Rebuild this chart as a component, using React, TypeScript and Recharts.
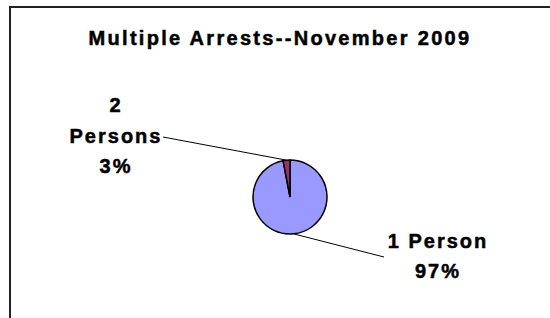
import React from 'react';
import { PieChart, Pie, Cell } from 'recharts';

const categories = ['1 Person', '2 Persons'];
const shares = [97, 3];
const labelLines: string[][] = [['1 Person', '97%'], ['2', 'Persons', '3%']];
const colors = ['#9999FF', '#993366'];

const data = categories.map((name, i) => ({ name, value: shares[i], lines: labelLines[i] }));

// where each leader line ends, relative to the pie centre
const labelLayout: Record<string, { dx: number; dy: number; tx: number; ty: number; lh: number }> = {
  '1 Person': { dx: 94, dy: 60, tx: 148, ty: 51, lh: 30 },
  '2 Persons': { dx: -127, dy: -60, tx: -174, ty: -85, lh: 30.5 },
};

const FONT = '"Liberation Sans", Arial, sans-serif';
const RAD = Math.PI / 180;

const renderLabel = (props: any) => {
  const { cx, cy, midAngle, outerRadius, payload, name } = props;
  const key = payload?.name ?? name;
  const lay = labelLayout[key];
  if (!lay) return null;
  const sx = cx + outerRadius * Math.cos(-midAngle * RAD);
  const sy = cy + outerRadius * Math.sin(-midAngle * RAD);
  const lines: string[] = payload?.lines ?? [];
  return (
    <g>
      <line x1={sx} y1={sy} x2={cx + lay.dx} y2={cy + lay.dy} stroke="#000" strokeWidth={1} />
      <text
        x={cx + lay.tx}
        y={cy + lay.ty}
        textAnchor="middle"
        fill="#000"
        stroke="#000"
        strokeWidth={0.5}
        fontFamily={FONT}
        fontWeight="bold"
        fontSize={20}
        letterSpacing={2}
      >
        {lines.map((l, i) => (
          <tspan key={i} x={cx + lay.tx} dy={i === 0 ? 0 : lay.lh}>{l}</tspan>
        ))}
      </text>
    </g>
  );
};

export default function App() {
  return (
    <div style={{ position: 'absolute', left: 0, top: 0, width: 550, height: 318, overflow: 'hidden', background: '#fff' }}>
      <PieChart width={550} height={318}>
        <rect x={10} y={7} width={600} height={400} fill="none" stroke="#222" strokeWidth={2} />
        <text
          x={280}
          y={45}
          textAnchor="middle"
          fill="#000"
          stroke="#000"
          strokeWidth={0.5}
          fontFamily={FONT}
          fontWeight="bold"
          fontSize={20}
          letterSpacing={2.3}
        >
          Multiple Arrests--November 2009
        </text>
        <Pie
          data={data}
          dataKey="value"
          nameKey="name"
          cx={285}
          cy={192}
          outerRadius={37}
          startAngle={90}
          endAngle={-270}
          stroke="#000"
          strokeWidth={1.5}
          label={renderLabel}
          labelLine={false}
          isAnimationActive={false}
        >
          {data.map((d, i) => (
            <Cell key={d.name} fill={colors[i]} />
          ))}
        </Pie>
      </PieChart>
    </div>
  );
}
